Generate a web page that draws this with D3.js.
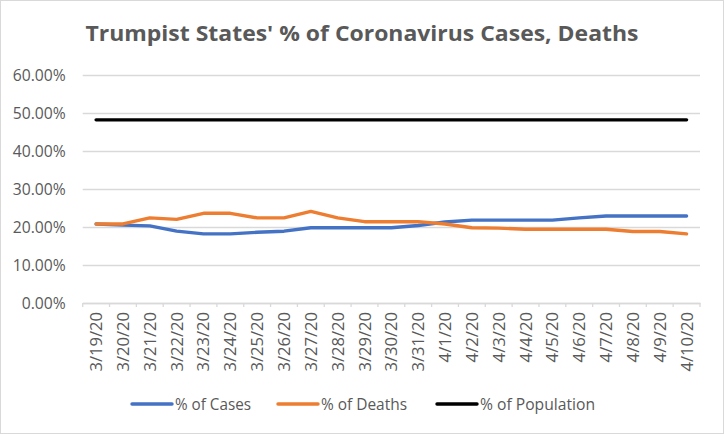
<!DOCTYPE html>
<html><head><meta charset="utf-8">
<script src="https://cdn.jsdelivr.net/npm/d3@7"></script>
<style>html,body{margin:0;padding:0;background:#fff;}svg{display:block;}</style>
</head><body>
<svg id="chart" width="724" height="434"></svg>
<script>
const dates = ["3/19/20","3/20/20","3/21/20","3/22/20","3/23/20","3/24/20","3/25/20","3/26/20","3/27/20","3/28/20","3/29/20","3/30/20","3/31/20","4/1/20","4/2/20","4/3/20","4/4/20","4/5/20","4/6/20","4/7/20","4/8/20","4/9/20","4/10/20"];
const cases = [20.8,20.5,20.3,18.9,18.2,18.2,18.6,18.9,19.8,19.8,19.8,19.8,20.4,21.3,21.8,21.8,21.8,21.8,22.4,22.9,22.9,22.9,22.9];
const deaths = [20.8,20.8,22.4,22.0,23.6,23.6,22.4,22.4,24.1,22.4,21.4,21.4,21.4,20.8,19.8,19.7,19.4,19.4,19.4,19.4,18.8,18.8,18.2];
const population = [48.2,48.2,48.2,48.2,48.2,48.2,48.2,48.2,48.2,48.2,48.2,48.2,48.2,48.2,48.2,48.2,48.2,48.2,48.2,48.2,48.2,48.2,48.2];
const yTicks = [0,10,20,30,40,50,60];
const title = "Trumpist States' % of Coronavirus Cases, Deaths";
const series = [
  {name:"% of Cases", values:cases, color:"#4472C4"},
  {name:"% of Deaths", values:deaths, color:"#ED7D31"},
  {name:"% of Population", values:population, color:"#000000"}
];

const svg = d3.select("#chart");
const W = 724, H = 434;
const FONT = "'Open Sans', sans-serif";
// approximate Calibri advance widths (em) to size narrow text like the original
const cw = {"0":0.507,"1":0.507,"2":0.507,"3":0.507,"4":0.507,"5":0.507,"6":0.507,"7":0.507,"8":0.507,"9":0.507,"/":0.386,".":0.252,"%":0.715};
const calibriLen = (s, size) => d3.sum(Array.from(s), c => cw[c] || 0.5) * size;

svg.append("rect").attr("x",0.5).attr("y",0.5).attr("width",W-1).attr("height",H-1)
  .attr("fill","#fff").attr("stroke","#d9d9d9");

const pLeft = 82.7, pRight = 700, pTop = 75, pBottom = 303;
const x = d3.scaleBand().domain(dates).range([pLeft,pRight]);
const y = d3.scaleLinear().domain([0,60]).range([pBottom,pTop]);

svg.append("text").attr("x",362).attr("y",41).attr("text-anchor","middle")
  .attr("font-family",FONT).attr("font-weight","bold").attr("font-size",22)
  .attr("fill","#595959").attr("textLength",553).attr("lengthAdjust","spacingAndGlyphs").text(title);

// gridlines + y labels
const yAxis = d3.axisLeft(y).tickValues(yTicks).tickSize(-(pRight-pLeft)).tickPadding(17)
  .tickFormat(d => d.toFixed(2) + "%");
const gy = svg.append("g").attr("transform",`translate(${pLeft},0)`).call(yAxis);
gy.select(".domain").remove();
gy.selectAll(".tick line").attr("stroke","#d9d9d9").attr("stroke-width",1.3);
gy.selectAll(".tick text").attr("fill","#595959").attr("font-family",FONT)
  .attr("font-size",16.5).attr("dy","0.36em")
  .attr("textLength",function(){ return calibriLen(this.textContent, 17.7); })
  .attr("lengthAdjust","spacingAndGlyphs");

// x axis
const gx = svg.append("g").attr("transform",`translate(0,${pBottom})`)
  .call(d3.axisBottom(x).tickSize(0).tickPadding(0));
gx.select(".domain").attr("stroke","#d9d9d9").attr("stroke-width",1.3);
gx.selectAll(".tick text").attr("fill","#595959").attr("font-family",FONT)
  .attr("font-size",16.5).attr("text-anchor","end")
  .attr("transform","translate(6,9) rotate(-90)").attr("dy",0).attr("y",0).attr("x",0)
  .attr("textLength",function(){ return calibriLen(this.textContent, 18); })
  .attr("lengthAdjust","spacingAndGlyphs");
// tick marks between categories
const bounds = dates.map(d => x(d)).concat([pRight]);
svg.append("g").selectAll("line").data(bounds).join("line")
  .attr("x1",d=>d).attr("x2",d=>d).attr("y1",pBottom).attr("y2",pBottom+4)
  .attr("stroke","#d9d9d9").attr("stroke-width",1.3);

const line = d3.line().x((d,i)=>x(dates[i]) + x.bandwidth()/2).y(d=>y(d));
svg.append("g").selectAll("path").data(series).join("path")
  .attr("d", s => line(s.values)).attr("fill","none").attr("stroke", s=>s.color)
  .attr("stroke-width",3.4).attr("stroke-linejoin","round").attr("stroke-linecap","round");

// legend
const legendPos = [132, 278, 437];
const legendLen = [76, 86, 115];
const lg = svg.append("g").selectAll("g").data(series).join("g")
  .attr("transform",(d,i)=>`translate(${legendPos[i]},404)`);
lg.append("line").attr("x1",0).attr("x2",40).attr("stroke",d=>d.color).attr("stroke-width",3.4)
  .attr("stroke-linecap","round");
lg.append("text").attr("x",43).attr("y",5.5).attr("fill","#595959")
  .attr("font-family",FONT).attr("font-size",16)
  .attr("textLength",(d,i)=>legendLen[i]).attr("lengthAdjust","spacingAndGlyphs").text(d=>d.name);
</script>
</body></html>
